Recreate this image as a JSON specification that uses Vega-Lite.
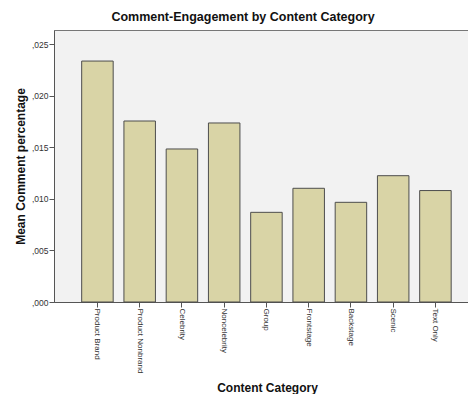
{
  "$schema": "https://vega.github.io/schema/vega-lite/v6.json",
  "autosize": {"type": "none"},
  "padding": {"left": 54, "top": 30, "right": 0, "bottom": 92},
  "width": 414,
  "height": 272,
  "background": "white",
  "title": {
    "text": "Comment-Engagement by Content Category",
    "font": "Liberation Sans",
    "fontSize": 12.5,
    "fontWeight": "bold",
    "color": "#111",
    "dx": -18,
    "offset": 7
  },
  "config": {
    "view": {"fill": "#f2f2f2", "stroke": "#777", "strokeWidth": 1},
    "axis": {
      "labelFont": "Liberation Sans",
      "titleFont": "Liberation Sans",
      "labelColor": "#333",
      "titleColor": "#111",
      "domainColor": "#555",
      "tickColor": "#555",
      "grid": false
    }
  },
  "data": {
    "values": [
      {"category": "Product Brand", "mean": 0.02335},
      {"category": "Product Nonbrand", "mean": 0.01754},
      {"category": "Celebrity", "mean": 0.01483},
      {"category": "Noncelebrity", "mean": 0.01735},
      {"category": "Group", "mean": 0.00869},
      {"category": "Frontstage", "mean": 0.01102},
      {"category": "Backstage", "mean": 0.00966},
      {"category": "Scenic", "mean": 0.01224},
      {"category": "Text Only", "mean": 0.0108}
    ]
  },
  "mark": {"type": "bar", "fill": "#d9d4a6", "stroke": "#4d4d4d", "strokeWidth": 1},
  "encoding": {
    "x": {
      "field": "category",
      "type": "nominal",
      "sort": null,
      "scale": {"paddingInner": 0.2544, "paddingOuter": 0.5266, "align": 0.622},
      "axis": {
        "title": "Content Category",
        "titleFontSize": 12,
        "titleFontWeight": "bold",
        "titleY": 85,
        "titleBaseline": "middle",
        "titleX": 213,
        "labelAngle": 90,
        "labelAlign": "left",
        "labelBaseline": "middle",
        "labelFontSize": 8,
        "labelPadding": 1,
        "tickSize": 5
      }
    },
    "y": {
      "field": "mean",
      "type": "quantitative",
      "scale": {"domain": [0, 0.02636], "nice": false},
      "axis": {
        "title": "Mean Comment percentage",
        "titleFontSize": 12,
        "titleFontWeight": "bold",
        "titleX": -34,
        "titleBaseline": "middle",
        "values": [0, 0.005, 0.01, 0.015, 0.02, 0.025],
        "labelExpr": "replace(format(datum.value, '.3f'), '0.', ',')",
        "labelFontSize": 8.5,
        "labelPadding": 1,
        "tickSize": 5
      }
    }
  }
}
